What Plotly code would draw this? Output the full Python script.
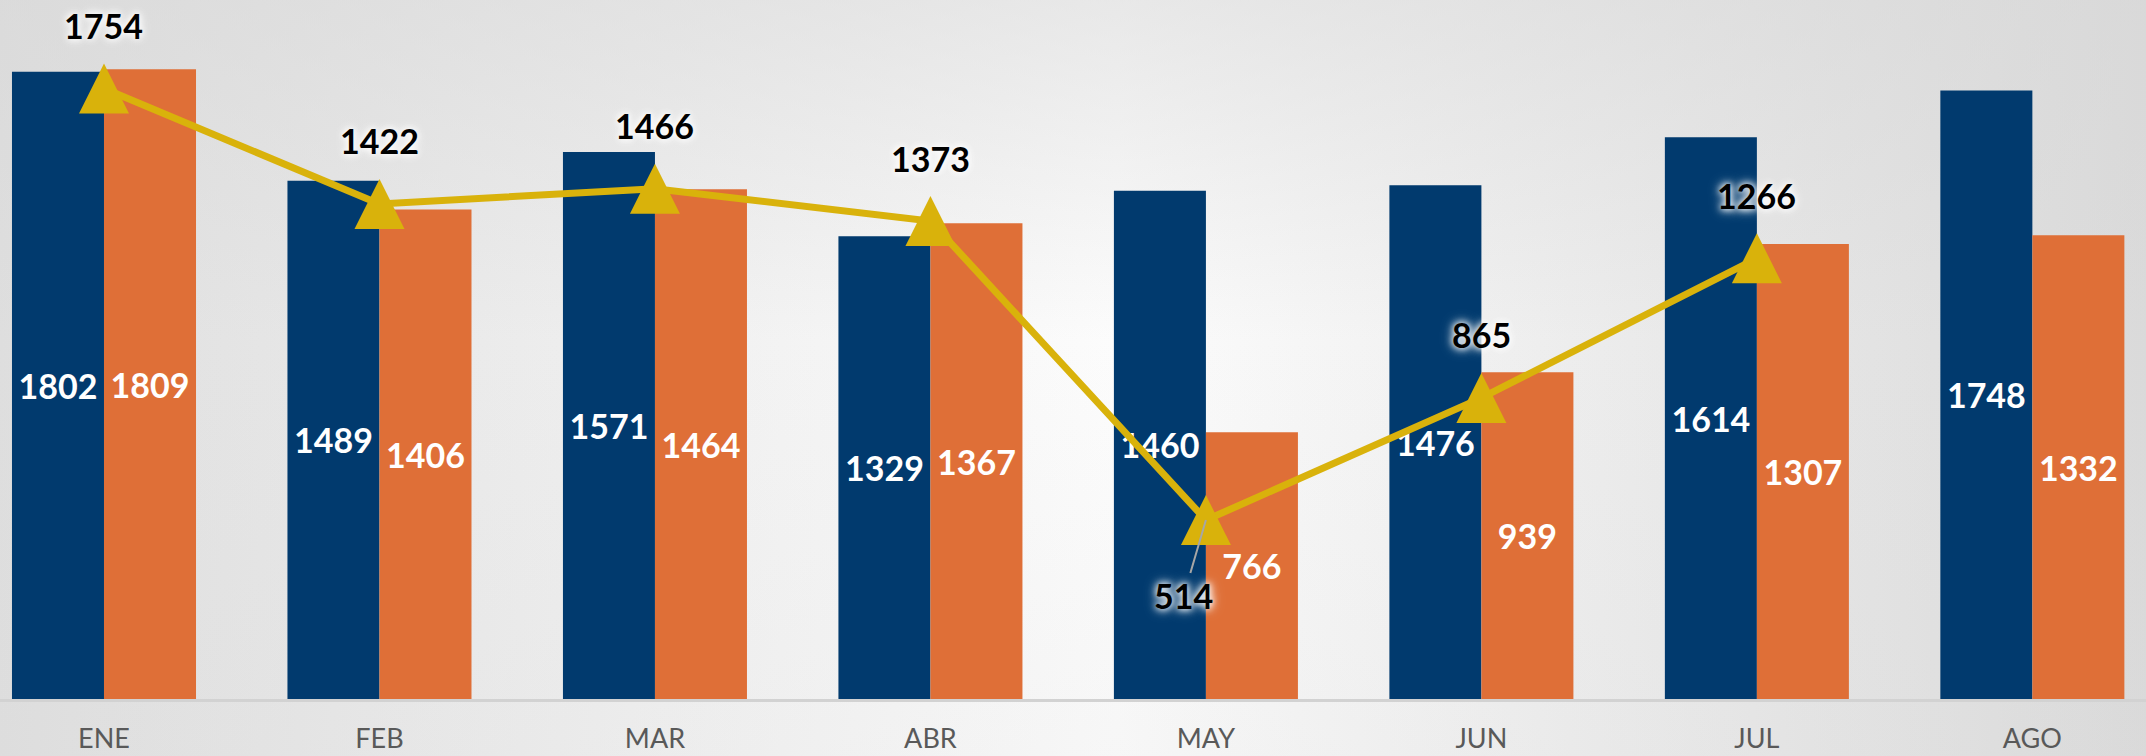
import base64
import plotly.graph_objects as go

# ---- data ----
months = ["ENE", "FEB", "MAR", "ABR", "MAY", "JUN", "JUL", "AGO"]
serie_azul = [1802, 1489, 1571, 1329, 1460, 1476, 1614, 1748]
serie_naranja = [1809, 1406, 1464, 1367, 766, 939, 1307, 1332]
line_months = ["ENE", "FEB", "MAR", "ABR", "MAY", "JUN", "JUL"]
serie_linea = [1754, 1422, 1466, 1373, 514, 865, 1266]

# ---- styles ----
BLUE = "#013A6E"
ORANGE = "#DF6F37"
GOLD = "#D9B20B"
FONT = "Lato"

W, H = 2146, 756
MB = 57

# background gradient (svg data uri)
svg = (
    f'<svg xmlns="http://www.w3.org/2000/svg" width="{W}" height="{H}" viewBox="0 0 {W} {H}" preserveAspectRatio="none">'
    '<defs>'
    '<linearGradient id="h" x1="0" y1="0" x2="1" y2="0">'
    '<stop offset="0" stop-color="#DEDEDE"/>'
    '<stop offset="0.52" stop-color="#FCFCFC"/>'
    '<stop offset="1" stop-color="#DADADA"/>'
    '</linearGradient>'
    '<linearGradient id="v" x1="0" y1="0" x2="0" y2="1">'
    '<stop offset="0" stop-color="#D8D8D8" stop-opacity="0.55"/>'
    '<stop offset="0.45" stop-color="#D8D8D8" stop-opacity="0"/>'
    '<stop offset="1" stop-color="#D8D8D8" stop-opacity="0.15"/>'
    '</linearGradient>'
    '</defs>'
    f'<rect width="{W}" height="{H}" fill="url(#h)"/>'
    f'<rect width="{W}" height="{H}" fill="url(#v)"/>'
    '</svg>'
)
bg_src = "data:image/svg+xml;base64," + base64.b64encode(svg.encode()).decode()

fig = go.Figure()

bar_font = dict(family=FONT, size=34, color="white", weight="bold")
fig.add_bar(
    x=months, y=serie_azul, name="azul",
    marker=dict(color=BLUE, line=dict(width=0)),
    texttemplate="%{y}", textposition="inside", insidetextanchor="middle",
    textangle=0, textfont=bar_font, insidetextfont=bar_font,
)
fig.add_bar(
    x=months, y=serie_naranja, name="naranja",
    marker=dict(color=ORANGE, line=dict(width=0)),
    texttemplate="%{y}", textposition="inside", insidetextanchor="middle",
    textangle=0, textfont=bar_font, insidetextfont=bar_font,
)
fig.add_scatter(
    x=line_months, y=serie_linea, mode="lines", name="linea",
    line=dict(color=GOLD, width=7),
)
# equilateral-like triangles centred on the points
fig.add_scatter(
    x=line_months, y=serie_linea, mode="markers", name="marcadores",
    marker=dict(symbol="arrow-down", size=50, angle=180, standoff=25,
                color=GOLD, line=dict(width=0)),
)

glow = "0px 0px 6px rgba(255,255,255,1), 0px 0px 10px rgba(255,255,255,0.9), 0px 0px 14px rgba(255,255,255,0.7)"
lab_font = dict(family=FONT, size=34, color="black", weight="bold", shadow=glow)
for m, v in zip(line_months, serie_linea):
    if m == "MAY":
        fig.add_annotation(
            x=m, y=v, text=str(v), showarrow=True, arrowhead=0,
            arrowcolor="#A6A6A6", arrowwidth=2, ax=-22, ay=75,
            font=lab_font,
        )
    else:
        fig.add_annotation(
            x=m, y=v, text=str(v), showarrow=False, yshift=63, font=lab_font,
        )

fig.update_layout(
    width=W, height=H,
    margin=dict(l=0, r=0, t=0, b=MB),
    barmode="group", bargap=0.332, bargroupgap=0,
    showlegend=False,
    paper_bgcolor="#E4E4E4", plot_bgcolor="rgba(0,0,0,0)",
    images=[dict(
        source=bg_src, xref="paper", yref="paper", x=0, y=1,
        sizex=1, sizey=H / (H - MB), sizing="stretch", layer="below",
        xanchor="left", yanchor="top",
    )],
    xaxis=dict(
        type="category", range=[-0.3775, 7.4125],
        showline=True, linecolor="#D2D2D2", linewidth=3,
        showgrid=False, zeroline=False, ticks="",
        tickfont=dict(family=FONT, size=27, color="#595959"),
        ticklabelstandoff=14,
    ),
    yaxis=dict(range=[0, 2008], visible=False, showgrid=False, zeroline=False),
)

fig.write_html(
    "out.html",
    config={"displayModeBar": False},
    post_script="document.body.style.margin='0px';document.body.style.overflow='hidden';",
)
